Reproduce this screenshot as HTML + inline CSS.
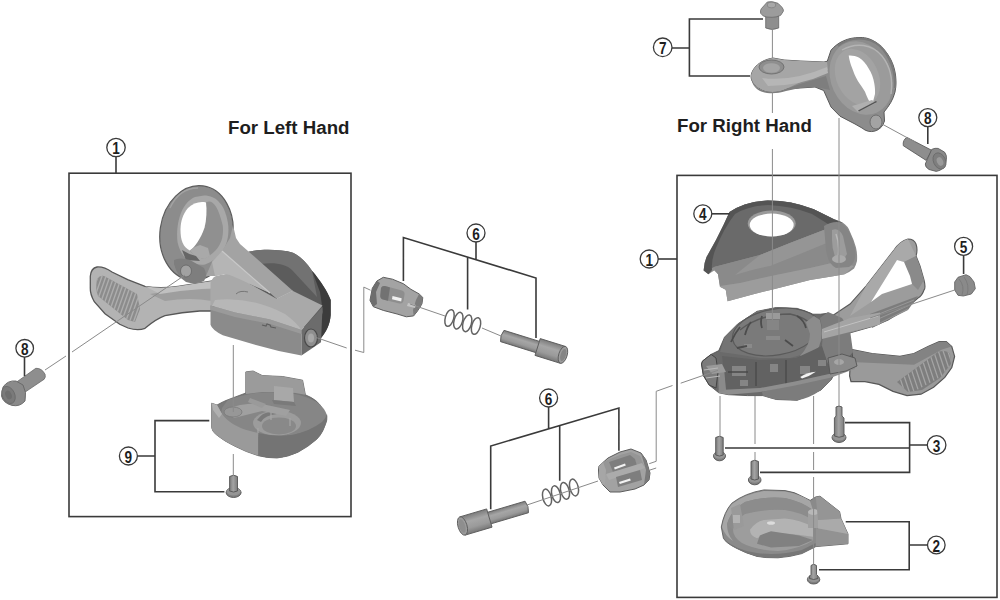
<!DOCTYPE html>
<html><head><meta charset="utf-8">
<style>
html,body{margin:0;padding:0;background:#fff;}
body{width:1000px;height:600px;overflow:hidden;}
svg{display:block;}
.t{font-family:"Liberation Sans",sans-serif;font-weight:bold;fill:#1e1e1e;}
.n{font-family:"Liberation Sans",sans-serif;font-weight:bold;fill:#1e1e1e;font-size:17px;}
.br{stroke:#3a3a3a;stroke-width:1.6;fill:none;}
.ax{stroke:#8a8a8a;stroke-width:1;fill:none;}
.c{stroke:#3a3a3a;stroke-width:1.3;fill:#fff;}
</style></head><body>
<svg width="1000" height="600" viewBox="0 0 1000 600">
<defs>
<linearGradient id="cyl" x1="0" y1="0" x2="0" y2="1"><stop offset="0" stop-color="#7c7c7c"/><stop offset="0.35" stop-color="#a6a6a6"/><stop offset="0.7" stop-color="#9a9a9a"/><stop offset="1" stop-color="#777"/></linearGradient>
<linearGradient id="cylv" x1="0" y1="0" x2="1" y2="0"><stop offset="0" stop-color="#7a7a7a"/><stop offset="0.45" stop-color="#a4a4a4"/><stop offset="1" stop-color="#7c7c7c"/></linearGradient>
</defs>
<!-- PARTS -->
<g id="leftShifter">
<!-- lever -->
<path d="M90.3 276.3 Q91 268 97 267 Q104 266.5 112 272 L127.7 279.7 L145 286.3 Q160 289 178.3 286.3 L212 281 L214 311 L199.7 311 Q182 312 165 315.7 Q156 319 145 328.3 Q138 331 128 328 L119.7 324.3 L105 313.7 L94.3 301.7 Q90 294 90.3 288 Z" fill="#b3b3b3" stroke="#575757" stroke-width="1.3"/>
<clipPath id="gripL"><path d="M97 279 Q100 275 104 276 L137 294 L140 309 L135 322 L128 320 L98 296 Q95 288 97 279 Z"/></clipPath>
<path d="M97 279 Q100 275 104 276 L137 294 L140 309 L135 322 L128 320 L98 296 Q95 288 97 279 Z" fill="#8c8c8c"/>
<path clip-path="url(#gripL)" d="M97.0 268.0 L85.0 302.0 M100.4 269.6 L88.4 303.6 M103.8 271.2 L91.8 305.2 M107.2 272.8 L95.2 306.8 M110.6 274.4 L98.6 308.4 M114.0 276.0 L102.0 310.0 M117.4 277.6 L105.4 311.6 M120.8 279.2 L108.8 313.2 M124.2 280.8 L112.2 314.8 M127.6 282.4 L115.6 316.4 M131.0 284.0 L119.0 318.0 M134.4 285.6 L122.4 319.6 M137.8 287.2 L125.8 321.2 M141.2 288.8 L129.2 322.8 M144.6 290.4 L132.6 324.4" stroke="#adadad" stroke-width="1.4" fill="none"/>
<path d="M150 294 Q175 289 212 289 L212 301 Q190 297 165 301 Z" fill="#9e9e9e"/>
<path d="M145 286.3 Q160 289 178.3 286.3 L212 281 L212 288 Q185 290 160 294 Z" fill="#c0c0c0"/>
<!-- dark back of body -->
<path d="M248 252 C258 249 280 249 293 252.7 C300 256 306 262 312 270.7 C320 280 328 292 330.7 300 L330.7 315 C330 325 326 332 321 338 L300 325 L250 290 Z" fill="#5c5c5c"/>
<path d="M248 252 C258 249 280 249 293 252.7 C300 256 306 262 312 270.7 L317 297 L292 270 C286 264 275 262 260 264 Z" fill="#727272"/>
<path d="M312 270.7 C320 280 328 292 330.7 300 L330.7 315 C330 325 326 332 321 338 L317 328 L323 312 L320 292 Z" fill="#3c3c3c"/>
<!-- ring -->
<ellipse cx="196.5" cy="233" rx="36.5" ry="47.5" transform="rotate(8 196.5 233)" fill="#8c8c8c" stroke="#5c5c5c" stroke-width="1.2"/>
<path d="M170 208 C176 195 186 188 198 188" stroke="#a2a2a2" stroke-width="1.5" fill="none"/>
<path d="M204 195.5 C216 195.5 226 205 228.3 226 C229.5 244 222 258 205 264.5 C191 266 181 258 177.5 242 C175.5 224 181 203 195 197 Z" fill="#a8a8a8"/>
<path d="M206 202.5 C212 199 218 205 222.8 225.8 C224 240 220 250 204.5 258.8 C198 258 192 254 189.8 250.6 C194 248 200 238 204.5 227.7 C206.5 220 206.5 210 205.4 202 Z" fill="#909090"/>
<path d="M206 202.5 C200 201 193 203 188 208 C183 214 180.5 221 180.5 230 C180.5 240 183 247 189.8 250.6 C195 247 201 238 204.5 227.7 C206.5 220 207 210 206 202.5 Z" fill="#fff"/>
<path d="M189.8 250.6 Q195 246 200 245 L208 248 L210 256 L204.5 259 L196 257 Z" fill="#a9a9a9"/>
<path d="M182 250 Q188 254 196 256 L200 261 L186 260 Z" fill="#666"/>
<!-- arm -->
<path d="M206 276 L212 262 L222 251 L230 238 L233 225 L236 238 L240 244 L248 251 L293 291 L277 299 L270 293 L250 284 L242 282 L233 277 L224 274 L215 276 Z" fill="#a3a3a3"/>
<path d="M212 262 L222 251 L270 293 L250 284 L242 282 L233 277 L224 274 L215 276 Z" fill="#b5b5b5"/>
<path d="M222 251 L270 293" stroke="#c8c8c8" stroke-width="1.3"/>
<path d="M277 299 L293 291" stroke="#c0c0c0" stroke-width="1"/>
<!-- bolt boss -->
<path d="M174 260 Q180 257 190 260 L204 268 Q208 276 204 281 Q196 285 186 282 Q177 276 174 264 Z" fill="#7e7e7e"/>
<ellipse cx="186" cy="271" rx="5.5" ry="6" fill="#a2a2a2" stroke="#666" stroke-width="0.8"/>
<!-- body top surface -->
<path d="M210.5 282.8 Q213 276 217.5 275.8 Q224 273 229.8 274.9 Q240 279 250 284 L277 299 L293 291 L322.5 305.5 L301.5 330 L270 319.5 L235 312.5 L210.5 305.5 Z" fill="#a9a9a9"/>
<path d="M215 300 Q250 296 285 314 Q296 322 301.5 330 L270 319.5 L235 312.5 L212 306 Z" fill="#b7b7b7"/>
<path d="M236 294 Q240 290 248 292" stroke="#777" stroke-width="1" fill="none"/>
<!-- body front face -->
<path d="M210.5 305.5 L235 312.5 L270 319.5 L301.5 330 L301.5 355.4 L278.8 351 L252.5 344 L222.8 335.3 Q212 330 210.5 324.8 Z" fill="#8b8b8b"/>
<path d="M210.5 305.5 L235 312.5 L270 319.5 L301.5 330 L301.5 334 L270 324 L235 317 L211 310 Z" fill="#9a9a9a"/>
<!-- end face -->
<path d="M301.5 330 L322.5 307 L321 342.3 L301.5 355.4 Z" fill="#6c6c6c"/>
<ellipse cx="311" cy="338" rx="6.5" ry="9" fill="#8e8e8e" stroke="#4a4a4a" stroke-width="1.2"/>
<ellipse cx="311" cy="338" rx="3" ry="4.5" fill="#a8a8a8"/>
<path d="M262 325 l4 1 l1 -2 l3 1 l1 2 l5 1" stroke="#5e5e5e" stroke-width="1.2" fill="none"/>
</g>
<g id="part9">
<!-- silhouette/side -->
<path d="M211.7 403.2 L217 405 Q224 401 228 399.7 L245.8 393 L245.8 371.9 L253.1 371 L262.3 375.6 L282.5 376.5 L302.6 380.2 L305.4 394.8 Q318 400 322 408 Q327 414 326 420.7 Q324 432 316.7 439.3 Q308 447 298 452.2 Q288 457 277 458 Q267 458 258.3 455.7 Q246 452 235 446.3 Q224 441 216.3 434.7 Q212 431 211.7 427.7 Z" fill="#7a7a7a" stroke="#5e5e5e" stroke-width="0.8"/>
<!-- top face -->
<path d="M228 399.7 Q242 395 258.3 392.7 Q275 391.5 293.3 393.8 Q306 396 316.7 402 Q325 408 327.2 416 Q326 424 316.7 427.7 Q305 432 293.3 434.7 Q275 437.5 258.3 437 Q240 434 228 426 Q220 418 222 408 Z" fill="#868686"/>
<!-- back wall tab -->
<path d="M245.8 371.9 L253.1 371 L262.3 375.6 L282.5 376.5 L302.6 380.2 L305.4 394.8 Q296 392.5 285 392 L262 392 L246 394 Z" fill="#9b9b9b"/>
<path d="M274 386 L293 388 L294 402 L274 400 Z" fill="#a8a8a8"/>
<path d="M272 400 L294 402 L296 406 L274 404 Z" fill="#7a7a7a"/>
<!-- recess -->
<ellipse cx="277" cy="423" rx="24" ry="12.5" fill="#9c9c9c"/>
<ellipse cx="279" cy="426" rx="17" ry="8.5" fill="#898989"/>
<path d="M257 420 Q262 412 277 410 L277 414 Q265 415 261 422 Z" fill="#7a7a7a"/>
<path d="M271 412 v8 M290 418 v8 M258 428 v7" stroke="#a6a6a6" stroke-width="1.2"/>
<!-- arm ridge -->
<path d="M224 410 Q245 402 262 404 L290 410 L286 416 L262 411 L234 418 Z" fill="#a0a0a0"/>
<path d="M250 398 L266 404 L262 408 L248 402 Z" fill="#9a9a9a"/>
<ellipse cx="233" cy="412" rx="9" ry="5" fill="#979797" stroke="#7a7a7a" stroke-width="0.8"/>
<!-- front-left raised wall -->
<path d="M211.7 403.2 L217 405 L222 414 Q232 428 258.3 433 L258.3 455.7 Q246 452 235 446.3 Q224 441 216.3 434.7 Q212 431 211.7 427.7 Z" fill="#9a9a9a"/>
<path d="M211.7 403.2 L217 405 L222 414 L219 418 L213 410 Z" fill="#b0b0b0"/>
<!-- front dark side -->
<path d="M258.3 433 Q276 437.5 293.3 434.7 Q310 431 322 422 Q326 418 327 414 Q328 420 326 424 Q322 434 316.7 439.3 Q308 447 298 452.2 Q288 457 277 458 Q267 458 258.3 455.7 Z" fill="#747474"/>
</g>
<g id="screw9" stroke="#555" stroke-width="0.9">
<ellipse cx="233.6" cy="492.5" rx="7.5" ry="5" fill="#7e7e7e"/>
<ellipse cx="233.6" cy="491.5" rx="7" ry="4" fill="#959595" stroke="none"/>
<path d="M229.6 491 V476.5 Q233.6 474 237.5 476.5 V491 Q233.6 493 229.6 491 Z" fill="url(#cylv)"/>
</g>
<g id="screw8L">
<path d="M16.7 382 L35.8 368.3 Q41.7 368 45 374.2 Q46 377 44.2 379.2 L23.3 393.3 Z" fill="#8e8e8e" stroke="#6a6a6a" stroke-width="0.8"/>
<path d="M3 387 Q8 380 16 381 L23 385 Q27 392 25 401 Q20 407 12 405.4 Q3 403 1.5 396 Z" fill="#8a8a8a" stroke="#666" stroke-width="0.9"/>
<ellipse cx="8.5" cy="395" rx="6.2" ry="9" transform="rotate(-25 8.5 395)" fill="#7a7a7a" stroke="#6a6a6a" stroke-width="0.8"/>
<ellipse cx="8.5" cy="395" rx="3" ry="4.5" transform="rotate(-25 8.5 395)" fill="#6e6e6e"/>
</g>
<g id="barrelU">
<path d="M383.3 277.3 L376.9 281 L372.3 288.3 L370 300.3 L373.3 306.7 L383.3 310.4 L397.1 314 L406.3 316.8 L413.6 315.9 L417.3 311.3 L421.9 304 L422.8 297.5 L419.1 293.9 L410.9 289.3 L403.5 283.8 L392.5 279.2 Z" fill="#a3a3a3" stroke="#5e5e5e" stroke-width="1"/>
<path d="M376.9 281 L372.3 288.3 L370 300.3 L373.3 306.7 L377 304 L376 292 L380 283 Z" fill="#6e6e6e"/>
<path d="M381 288 Q382 285.5 385 286 L402 290.5 Q405 291.5 404.5 294.5 L403.5 301 Q402.5 304 399.5 303.5 L383 299.5 Q380 298.5 380.3 295.5 Z" fill="#8e8e8e"/>
<path d="M381 288 Q382 285.5 385 286 L390 287.5 L388 300.8 L383 299.5 Q380 298.5 380.3 295.5 Z" fill="#727272"/>
<path d="M392.5 296 L401.7 298.2 L401.2 301.4 L392 299.2 Z" fill="#f0f0f0"/>
<path d="M413.6 315.9 L417.3 311.3 L421.9 304 L422.8 297.5 L419.1 293.9 L416 300 L413 310 Z" fill="#7c7c7c"/>
<path d="M408 303 L416 305 L415 308 L407 306 Z" fill="#c4c4c4"/>
</g>
<g id="pinU" transform="translate(502.3 336) rotate(17.3)">
<path d="M0 -5.9 H38 V5.9 H0 Q-2.5 0 0 -5.9 Z" fill="url(#cyl)" stroke="#5e5e5e" stroke-width="0.9"/>
<path d="M37 -8.8 H63.5 V8.8 H37 Z" fill="url(#cyl)" stroke="#5e5e5e" stroke-width="0.9"/>
<ellipse cx="63.5" cy="0" rx="4.2" ry="8.8" fill="#9c9c9c" stroke="#5e5e5e" stroke-width="0.9"/>
<ellipse cx="63.8" cy="0" rx="2.6" ry="6.2" fill="#858585"/>
</g>
<g id="bolt7">
<path d="M765.7 16 H778.7 V28 Q772 31 765.7 28 Z" fill="#8e8e8e" stroke="#666" stroke-width="0.8"/>
<path d="M767.3 2 Q772 0.8 778 3.3 L782 7.3 Q784 10 783.3 11.3 L780.7 15.3 Q776 17.5 772 17.3 Q766 17.5 763.3 16 L760.7 13.3 Q760 10.5 761.3 8.7 Z" fill="#9c9c9c" stroke="#6a6a6a" stroke-width="0.8"/>
<ellipse cx="771.5" cy="5" rx="4.2" ry="2.8" fill="#a8a8a8" stroke="#7c7c7c" stroke-width="0.7"/>
</g>
<g id="clamp7">
<!-- ring silhouette + arm + tab -->
<path d="M860 37.5 C872 37 884 46 891 60 C896 70 897 82 895 92 C893 100 889 106 884 112 L884.5 121 Q882 129 875 131 Q868 133 862 128 L855 124 L840 116.2 L831 107 L823.7 90.5 L815 87 L800 88 L786 89 C780 92 772 93 765 91 C756 88 751 82 751 76 C752 68 760 60 773 58 L784 60 L800 61 L824 62 L827.3 61.2 L831 50.2 C838 42 848 37.5 860 37.5 Z" fill="#8c8c8c" stroke="#5a5a5a" stroke-width="1"/>
<!-- front face annulus outer -->
<ellipse cx="861" cy="78" rx="30" ry="38" transform="rotate(-25 861 78)" fill="#9b9b9b"/>
<path d="M838 46 C850 36 868 36 880 46 C890 56 896 72 895 88" stroke="#7a7a7a" stroke-width="2.2" fill="none"/>
<path d="M842 50 C856 42 872 44 882 56 C890 66 893 80 891 94" stroke="#b4b4b4" stroke-width="1.4" fill="none"/>
<!-- inner surface -->
<ellipse cx="857.5" cy="77" rx="21" ry="29.5" transform="rotate(-25 857.5 77)" fill="#a3a3a3"/>
<clipPath id="clipHoleR"><ellipse cx="857.5" cy="77" rx="21" ry="29.5" transform="rotate(-25 857.5 77)"/></clipPath>
<path d="M848.7 55.5 C852 55.2 856 56 859.2 57.8 C863 60 866 64 868.5 68.3 C871.5 73 873.5 78 874.3 83.5 C875 87 875.2 91 875 94 L873.2 101 L869.7 102.2 C867 97 866 94 865 91.7 C862 87 860 84 858 81.2 C855 76 853.5 72 852.2 68.3 C850.5 64 849.5 61 848.7 55.5 Z" fill="#fff"/>
<path d="M852 106 L872 100 L876 103 L858 112 Z" fill="#b0b0b0"/>
<path d="M858 110.5 L876 101 L877 102 L859 111.5 Z" fill="#555"/>
<!-- bolt boss -->
<ellipse cx="876" cy="122" rx="6" ry="7" fill="#a3a3a3" stroke="#6a6a6a" stroke-width="0.9"/>
<!-- arm -->
<path d="M773 58 L784 60 L800 61 L827 62 L828 70 L805 80 L786 89 C780 92 772 93 765 91 C756 88 751 82 751 76 C752 68 760 60 773 58 Z" fill="#a6a6a6"/>
<path d="M751 76 C752 84 757 89 765 91 C772 93 780 92 786 89 L800 84 L826 76 L830 90 L815 87 L800 88 L786 91 C776 94 768 94 760 91 C754 88 751 82 751 76 Z" fill="#7e7e7e"/>
<path d="M762 78 Q792 82 827 67 L828 73 Q800 86 768 86 Z" fill="#b6b6b6"/>
<ellipse cx="771.5" cy="67" rx="12.5" ry="7" fill="#8e8e8e" stroke="#6e6e6e" stroke-width="0.9"/>
<ellipse cx="771.5" cy="68" rx="8.5" ry="4.8" fill="#a4a4a4"/>
</g>
<g id="screw8R">
<path d="M906.9 137.4 L931.7 150.3 L926.2 160.4 L903.3 145.7 Q902.5 140 906.9 137.4 Z" fill="#8e8e8e" stroke="#5e5e5e" stroke-width="0.9"/>
<path d="M931.7 149.4 Q935 147.8 938.1 148.4 L944.5 152.1 Q947 155 946.4 159.4 Q946 164 943.6 167.7 Q940 171 936.3 171.4 L929 169.5 Q925 167 925.3 164 Z" fill="#8a8a8a" stroke="#5e5e5e" stroke-width="0.9"/>
<ellipse cx="939.5" cy="161" rx="6" ry="8.5" transform="rotate(-25 939.5 161)" fill="#7e7e7e" stroke="#6a6a6a" stroke-width="0.8"/>
<ellipse cx="940" cy="161.5" rx="3" ry="4.5" transform="rotate(-25 940 161.5)" fill="#9a9a9a"/>
</g>
<g id="cover4">
<path d="M729.5 212 Q737 207 744.8 204.4 Q756 201 767.8 200.5 Q780 200.5 790.8 202.5 Q803 205 813.8 209.2 L833 218.7 L842.6 222.6 Q848 226 850.2 232.2 Q854 240 856 247.5 Q857.5 254 857 260.9 Q856 265 854.1 268.6 Q850 272 844.5 274.3 L833 276.2 L810 280.1 L771.7 289.7 L752.5 294.4 L727.6 301.2 L725.7 289.7 L719.9 286.8 L718 274.3 L714.2 270.5 L708.4 274.3 L703.6 270.5 Q704 263 706.5 257.1 L716.1 239.8 L723.7 224.5 Z" fill="#8d8d8d"/>
<!-- top dark face -->
<path d="M729.5 212 Q737 207 744.8 204.4 Q756 201 767.8 200.5 Q780 200.5 790.8 202.5 Q803 205 813.8 209.2 L833 218.7 L829 228 L790 243 L760 255 L714 267 L708 270 Q707 262 709 257 L718 240 Z" fill="#6a6a6a"/>
<path d="M729.5 212 Q737 207 744.8 204.4 Q756 201 767.8 200.5 Q780 200.5 790.8 202.5 Q803 205 813.8 209.2 L833 218.7 L842.6 222.6 L828 224 L812 214 Q792 206 768 205 Q748 206 735 214 Q724 228 716 248 Q711 260 712 270 L708.4 274.3 L703.6 270.5 Q704 263 706.5 257.1 L716.1 239.8 L723.7 224.5 Z" fill="#545454"/>
<!-- middle lighter band -->
<path d="M714 267 L760 255 L790 243 L829 228 L838 236 L836 262 L810 268 L771 276 L740 283 L720 286 L718 274.3 Z" fill="#8a8a8a"/>
<path d="M760 255 L790 243 L829 228 L834 240 L800 254 L770 266 Q750 270 735 275 Z" fill="#959595"/>
<!-- bottom flange -->
<path d="M720 286 L740 283 L771 276 L810 268 L836 262 L854 266 L844.5 274.3 L833 276.2 L810 280.1 L771.7 289.7 L752.5 294.4 L727.6 301.2 L725.7 289.7 L719.9 286.8 Z" fill="#9c9c9c"/>
<!-- hole -->
<ellipse cx="771.7" cy="223.5" rx="24" ry="13" fill="#9a9a9a"/>
<ellipse cx="771.7" cy="225" rx="22" ry="11.5" fill="#fff"/>
<!-- boss -->
<path d="M824 226 Q834 220 842 223 Q851 230 855 248 Q857 262 849 267 L836 268 Q828 264 826 250 Z" fill="#858585"/>
<path d="M832 230 Q839 227 843 236 L847 254 Q843 262 836 259 Q832 250 832 240 Z" fill="#9c9c9c"/>
<path d="M836 234 Q840 244 838 258" stroke="#b8b8b8" stroke-width="1.5" fill="none"/>
<ellipse cx="839" cy="259" rx="7" ry="4" fill="#aaaaaa"/>
</g>
<g id="levers">
<!-- upper release lever -->
<path d="M832 316 L850 304 L866 286 L880 268 L894 250 Q900 241 908 239 Q914 239 916 244 Q918 250 916 256 L920 266 L924 280 Q926 288 924 290 Q922 296 918 298 L904 310 L888 320 L874 326 L860 330 L846 334 L832 336 Z" fill="#9c9c9c" stroke="#5a5a5a" stroke-width="1.1"/>
<path d="M894 250 Q900 241 908 239 L916 256 L904 262 L897 260 L871 302 L850 316 L866 286 L880 268 Z" fill="#a9a9a9"/>
<path d="M916 256 L920 266 L924 280 L918 290 L912 284 L904 262 Z" fill="#8a8a8a"/>
<path d="M871 302 L897 260 L904 262 L910 276 L912 284 L900 288 L882 294 Z" fill="#fff"/>
<path d="M870 314 L918 296 L908 310 L872 328 Z" fill="#7c7c7c"/>
<path d="M874 316 L914 300 M876 320 L912 304 M878 324 L908 309" stroke="#9e9e9e" stroke-width="0.8"/>
<path d="M832 336 L846 334 L860 330 L874 326 L872 320 L850 326 L834 328 Z" fill="#888"/>
<!-- lower thumb lever -->
<path d="M851 349.4 L872 353.6 L900 356.4 L914 353.6 L928 346.6 L939.2 341.7 L946.2 341.7 L951.8 346.6 L954.6 356.4 L951.8 367.6 L944.8 377.4 L933.6 387.2 L921 394.2 L907 395.6 L893 391.4 L879 384.4 L865 381.6 L851 381.6 L849.6 376 Z" fill="#9a9a9a" stroke="#575757" stroke-width="1.2"/>
<path d="M851 349.4 L872 353.6 L900 356.4 L914 353.6 L928 346.6 L939.2 341.7 L946.2 341.7 L951.8 346.6 L942 349.4 L914 364.8 L851 362 Z" fill="#838383"/>
<clipPath id="gripR"><path d="M897 382 L938 352 Q946 349 950 354 L951 364 L940 378 L922 390 L908 392 Z"/></clipPath>
<path d="M897 382 L938 352 Q946 349 950 354 L951 364 L940 378 L922 390 L908 392 Z" fill="#7e7e7e"/>
<path clip-path="url(#gripR)" d="M894.0 360.0 L906.0 396.0 M898.0 357.8 L910.0 393.8 M902.0 355.6 L914.0 391.6 M906.0 353.4 L918.0 389.4 M910.0 351.2 L922.0 387.2 M914.0 349.0 L926.0 385.0 M918.0 346.8 L930.0 382.8 M922.0 344.6 L934.0 380.6 M926.0 342.4 L938.0 378.4 M930.0 340.2 L942.0 376.2 M934.0 338.0 L946.0 374.0 M938.0 335.8 L950.0 371.8 M942.0 333.6 L954.0 369.6 M946.0 331.4 L958.0 367.4" stroke="#a4a4a4" stroke-width="1.3" fill="none"/>
</g>
<g id="body1">
<path d="M702.5 361.1 L711.1 354.4 L718.8 350.6 L724.5 337.2 L737.9 323.8 L757.1 311.3 L776.3 307.5 L797.3 308.4 L812.7 314.2 L820.3 314.2 L828 313.2 L840 322 L849.1 333.3 L852.9 358.3 L854.8 365.9 L849.1 369.8 L835.7 370.7 L831.4 379.5 L821 390 L797.3 400.3 L776.3 399.5 L762.8 395.6 L747.5 395.6 L728.3 394.7 L718.8 392.8 L709.2 385.1 L703.4 375.5 L701.5 364 Z" fill="#6a6a6a" stroke="#4a4a4a" stroke-width="0.8"/>
<!-- dial disk top -->
<path d="M724.5 337.2 L737.9 323.8 L757.1 311.3 L776.3 307.5 L797.3 308.4 L812.7 314.2 L820 322 L822 340 L812 352 L790 358 L760 358 L735 354 L720 352 Z" fill="#747474"/>
<ellipse cx="776" cy="332" rx="44" ry="23" transform="rotate(-10 776 332)" fill="#7a7a7a" stroke="#5a5a5a" stroke-width="1.2"/>
<path d="M740 330 Q760 314 790 314 Q810 318 816 332" stroke="#5a5a5a" stroke-width="1.4" fill="none"/>
<path d="M766 313 h14 v6 h-14 z" fill="#9a9a9a"/>
<path d="M767 320 h12 v10 h-12 z" fill="#858585"/>
<path d="M766 336 h14 v4 h-14 z M744 344 h8 v4 h-8z" fill="#8a8a8a"/>
<path d="M731 342 Q735 333 740 327 M745 335 Q747 327 751 322 M762 328 Q760 322 762 316 M797 316 Q804 320 806 328 M785 340 l8 6 M737 348 l10 -2" stroke="#4c4c4c" stroke-width="1.8" fill="none"/>
<!-- dial wall right -->
<path d="M806 322 L814 316 L820 320 Q824 334 819 347 L806 357 L800 356 Q810 345 810 334 Z" fill="#8c8c8c"/>
<path d="M820 318 L828 313.2 L840 322 L836 340 L822 346 Q824 332 820 318 Z" fill="#747474"/>
<!-- inner frame area -->
<path d="M722 356 L760 360 L796 358 L822 346 L840 340 L850 352 L852 362 L831 373.5 L795 381.5 L760 388 L726 390 Z" fill="#626262"/>
<path d="M732 366 h14 v10 h-14z M770 364 h8 v8 h-8z M800 366 h10 v8 h-10z M740 380 h8 v6 h-8z M818 360 h8 v6 h-8z" fill="#858585"/>
<path d="M756 362 v24 M786 360 v26 M728 372 h20" stroke="#4a4a4a" stroke-width="1.4"/>
<!-- bottom bowl -->
<path d="M762 392 L795 384 L831.4 376 L831.4 379.5 L821 390 Q810 398 797.3 400.3 L776.3 399.5 Q768 398 762.8 395.6 Z" fill="#7c7c7c"/>
<!-- frame light band -->
<path d="M718.8 390 L760 388 L795 381.5 L831.4 373.5 L854.8 366 L854.8 369 L849.1 371 L831.4 377.5 L795 385.5 L760 392 L728.3 394.7 L718.8 393 Z" fill="#8e8e8e"/>
<path d="M718 370 L724 368 L726 390 L718.8 392.8 Z" fill="#8a8a8a"/>
<path d="M800.2 376.9 Q808 372 815.8 371.7 Q810 376 802 378.5 Z" fill="#f4f4f4"/>
<!-- lever root & pivot -->
<path d="M820 318 L828 312 L842 318 L850 330 L853 352 L846 360 L828 364 L822 346 Q824 332 820 318 Z" fill="#7c7c7c"/>
<path d="M822 329 L850 318 L880 312.5 L880 324.5 L850 332 L822 339 Z" fill="#a4a4a4"/>
<path d="M824 332 L878 316" stroke="#c2c2c2" stroke-width="1"/>
<path d="M828 358 L842 354 L855 358 L857 366 L846 371 L830 374 Z" fill="#8a8a8a" stroke="#555" stroke-width="0.9"/>
<ellipse cx="839" cy="362" rx="5" ry="3" fill="#a6a6a6"/>
<!-- left cable guide -->
<path d="M702.5 361.1 L711.1 354.4 L716 358 L718 372 L716 388 L709.2 385.1 L703.4 375.5 L701.5 364 Z" fill="#7c7c7c" stroke="#454545" stroke-width="1"/>
<path d="M706 366 L722 364 L726 372 L712 374 Z" fill="#9a9a9a"/>
<path d="M704 370 L718 368 M706 378 L720 376" stroke="#b8b8b8" stroke-width="1.2"/>
</g>
<g id="cap5">
<path d="M954.7 282 L958 277.3 L966 274.7 L970 276.7 L974 282 L975.3 288.7 L971.3 294 L963.3 296 L958 295.3 L954.7 290 Z" fill="#8a8a8a" stroke="#666" stroke-width="0.9"/>
<path d="M959 279 Q965 286 962 295 M964 277 Q970 285 967 295" stroke="#777" stroke-width="0.8" fill="none"/>
</g>
<g id="screws3" stroke="#555" stroke-width="0.9">
<ellipse cx="719.5" cy="456" rx="6" ry="4.8" fill="#7e7e7e"/>
<ellipse cx="719.5" cy="455" rx="5.6" ry="3.8" fill="#959595" stroke="none"/>
<path d="M715.7 455 V437.5 Q719.5 435 723.2 437.5 V455 Q719.5 457 715.7 455 Z" fill="url(#cylv)"/>
<ellipse cx="754.7" cy="480" rx="6.3" ry="4.8" fill="#7e7e7e"/>
<ellipse cx="754.7" cy="479" rx="5.9" ry="3.8" fill="#959595" stroke="none"/>
<path d="M751 479 V461.5 Q754.7 459 758.5 461.5 V479 Q754.7 481 751 479 Z" fill="url(#cylv)"/>
<ellipse cx="839" cy="437.5" rx="7" ry="5" fill="#7e7e7e"/>
<ellipse cx="839" cy="436.5" rx="6.6" ry="4" fill="#959595" stroke="none"/>
<path d="M836 416 V407 Q839 405 842 407 V416 L844 418 V436 Q839 438.5 834.4 436 V418 Z" fill="url(#cylv)"/>
<ellipse cx="813.6" cy="579.5" rx="6.2" ry="4.5" fill="#7e7e7e"/>
<ellipse cx="813.6" cy="578.5" rx="5.8" ry="3.5" fill="#959595" stroke="none"/>
<path d="M811 574.5 V565.5 Q813.6 563 816.5 565.5 V574.5 L818 576 V578.5 Q813.6 580.5 809.5 578.5 V576 Z" fill="url(#cylv)"/>
</g>
<g id="part2">
<path d="M721.3 527 Q724 512 731.8 503.2 Q745 493 764 489.9 L785 490.6 Q795 492 801.8 496.2 L810.2 500.4 L815.8 496.9 L820 496.2 L839.6 511.6 L841 518.6 L848 534 L848 543.8 L815.8 546.6 L801.8 553.6 Q790 557 778 557.8 Q765 558 757 556.4 Q745 553 736 548 Q726 543 723.4 538.2 Z" fill="#8a8a8a" stroke="#5e5e5e" stroke-width="0.9"/>
<!-- rim top light -->
<path d="M722 527 Q725 512 732 504 Q745 494 764 491 L785 491.5 Q800 494 810 501 L813 510 Q800 501 785 498 Q765 496 745 502 Q731 510 727 524 Q727 534 733 541 Q725 536 722 527 Z" fill="#a6a6a6"/>
<!-- inner back wall -->
<path d="M727 524 Q731 510 745 502 Q765 496 785 498 Q800 501 813 510 L813 520 Q800 512 785 510 Q762 509 745 514 Q735 520 733 530 Z" fill="#8c8c8c"/>
<!-- floor -->
<path d="M733 530 Q735 520 745 514 Q762 509 785 510 Q800 512 813 520 L814 540 Q800 549 778 551 Q755 550 742 543 Q733 537 733 530 Z" fill="#9d9d9d"/>
<!-- cam light -->
<path d="M750 529.8 Q755 522 764 520 L785 518.6 Q800 520 813 527 L813 536.8 L792 534 L768.2 532.6 L757 538.2 Q750 536 750 529.8 Z" fill="#b3b3b3"/>
<ellipse cx="771" cy="523" rx="4" ry="1.8" fill="#dcdcdc"/>
<!-- cam dark -->
<path d="M759.8 535.4 L771 531.2 L799 535.4 L813 540 L799 546 L771 547.5 L757 543.8 Z" fill="#818181"/>
<!-- left inner structures -->
<path d="M731 508 L740 504 L744 526 L734 530 Z" fill="#9a9a9a"/>
<path d="M733 515 h7 v8 h-7 z" fill="#b3b3b3"/>
<!-- front rim -->
<path d="M723.4 538.2 Q735 550 757 553 Q778 556 801.8 550 L815.8 543 L815.8 546.6 L801.8 553.6 Q790 557 778 557.8 Q765 558 757 556.4 Q745 553 736 548 Q726 543 723.4 538.2 Z" fill="#777"/>
<!-- post -->
<path d="M808 512 h11 v16 h-11 z" fill="#a0a0a0"/>
<ellipse cx="813.5" cy="512" rx="5.5" ry="3" fill="#b8b8b8"/>
<!-- tab block -->
<path d="M815.8 496.9 L820 496.2 L839.6 511.6 L841 518.6 L818 520 Z" fill="#959595"/>
<path d="M818 520 L841 518.6 L848 534 L818 536 Z" fill="#aaaaaa"/>
<path d="M816 528 L848 534 L848 543.8 L815.8 546.6 Z" fill="#929292"/>
</g>
<g id="part6L">
<path d="M599 466 L608 458 L620 452 L631 449 L641 453 L646 460 L650 473 L649 480 L644 485 L635 489 L620 492 L610 492 L603 485 L599 478 L598.5 470 Z" fill="#a2a2a2" stroke="#5c5c5c" stroke-width="1"/>
<path d="M603 462 L620 455 L631 452 L640 456 L644 466 L610 476 L604 474 Z" fill="#969696"/>
<path d="M609 462 L630 455 L635 459 L637 466 L613 472 Z" fill="#7e7e7e"/>
<path d="M614 467.5 L625 463.5 L625.8 465.5 L614.8 469.5 Z" fill="#f2f2f2"/>
<path d="M606 474 L642 463 L645 468 L609 480 Z" fill="#ababab"/>
<path d="M616 477 L640 470 L642 480 L618 487 Z" fill="#7e7e7e"/>
<path d="M619 482 L630 478.5 L630.8 480.5 L619.8 484 Z" fill="#f2f2f2"/>
<path d="M599 466 L603 462 L606 470 L605 484 L603 485 L599 478 Z" fill="#a6a6a6"/>
<path d="M641 453 L646 460 L650 473 L649 480 L644 485 L646 470 Z" fill="#7a7a7a"/>
</g>
<g id="pinL" transform="translate(462.5 526) rotate(-16.5)">
<path d="M27 -6 H67 Q69.5 0 67 6 H27 Z" fill="url(#cyl)" stroke="#5e5e5e" stroke-width="0.9"/>
<path d="M0 -9.5 H28 V9.5 H0 Z" fill="url(#cyl)" stroke="#5e5e5e" stroke-width="0.9"/>
<ellipse cx="0" cy="0" rx="4.5" ry="9.5" fill="#9c9c9c" stroke="#5e5e5e" stroke-width="0.9"/>
<ellipse cx="-0.3" cy="0" rx="3" ry="7" fill="#8e8e8e"/>
</g>
<g id="springU" fill="none" stroke="#626262" stroke-width="1.5">
<ellipse cx="449.5" cy="318.0" rx="4.2" ry="8.6" transform="rotate(16 449.5 318.0)"/>
<ellipse cx="458.3" cy="320.7" rx="4.2" ry="8.6" transform="rotate(16 458.3 320.7)"/>
<ellipse cx="467.2" cy="323.3" rx="4.2" ry="8.6" transform="rotate(16 467.2 323.3)"/>
<ellipse cx="476.0" cy="326.0" rx="4.2" ry="8.6" transform="rotate(16 476.0 326.0)"/>
</g>
<g id="springL" fill="none" stroke="#626262" stroke-width="1.5">
<ellipse cx="547.0" cy="497.5" rx="4.2" ry="8.6" transform="rotate(-14 547.0 497.5)"/>
<ellipse cx="556.0" cy="494.2" rx="4.2" ry="8.6" transform="rotate(-14 556.0 494.2)"/>
<ellipse cx="565.0" cy="490.8" rx="4.2" ry="8.6" transform="rotate(-14 565.0 490.8)"/>
<ellipse cx="574.0" cy="487.5" rx="4.2" ry="8.6" transform="rotate(-14 574.0 487.5)"/>
</g>

<!-- /PARTS -->
<!-- titles -->
<text class="t" x="228" y="134" font-size="18.7">For Left Hand</text>
<text class="t" x="677" y="132.4" font-size="18.7">For Right Hand</text>

<!-- boxes -->
<rect class="br" x="69" y="173.2" width="282" height="343.4"/>
<rect class="br" x="677" y="175.4" width="320" height="422"/>

<!-- LEFT axis lines -->
<g id="axL">
<path class="ax" d="M45 370 L66 356 M72 352 L185 275"/>
<path class="ax" d="M233.3 345 V412 M233.3 454 V476"/>
<path class="ax" d="M314.7 337 L346.7 348 M355 350.2 L363.8 352.5 V287.1 L370.5 290.2"/>
<path class="ax" d="M410 304 L445 316 M482 328 L501 336"/>
</g>
<!-- LEFT brackets -->
<path class="br" d="M116 157 V173"/>
<path class="br" d="M24.5 357 V376"/>
<path class="br" d="M137.5 456 H155 M209.3 420.6 H155 V491.7 H224.4"/>
<path class="br" d="M476 242 V259 M403.4 281 V237.5 L536 278 V338 M467.6 257 V309.5"/>

<!-- RIGHT axis lines -->
<g id="axR">
<path class="ax" d="M772.4 30 V58 M772.4 92 V113 M772.4 149 V320"/>
<path class="ax" d="M839 118 V406"/>
<path class="ax" d="M813.6 396 V444 M813.6 452 V470 M813.6 477 V564"/>
<path class="ax" d="M954.7 290 L870 318"/>
<path class="ax" d="M527 505 L598 481"/>
<path class="ax" d="M650 470 L656.2 468"/>
<path class="ax" d="M882 124 L915 142"/>
<path class="ax" d="M718 370.3 L680.7 383.2 M672.5 385.5 L656.2 391.3 V461.3 L649.2 463.7"/>
<path class="ax" d="M720 396 V436 M755 396 V444 M755 452 V460"/>
</g>
<!-- RIGHT brackets -->
<path class="br" d="M672 48 H689.4 M763 19 H689.4 V76 H750"/>
<path class="br" d="M658 259 H677"/>
<path class="br" d="M712 213.8 H729.7"/>
<path class="br" d="M927 445 H909.6 M845 422.6 H909.6 V472.4 H760 M725 448 H909.6"/>
<path class="br" d="M927 545 H909.2 M845.7 521.8 H909.2 V569.8 H819"/>
<path class="br" d="M927.8 126.6 V144"/>
<path class="br" d="M963.6 255.5 V274"/>
<path class="br" d="M548.6 407 V429 M490.7 509.3 V446 L618.9 408 V450.7 M559.7 425.5 V480.8"/>

<!-- callouts -->
<g id="callouts">
<g transform="translate(116 147.5)"><circle class="c" r="9.2"/><text class="n" y="6.5" transform="scale(0.8 1)" text-anchor="middle">1</text></g>
<g transform="translate(24.7 348.3)"><circle class="c" r="8.8"/><text class="n" y="6.5" transform="scale(0.8 1)" text-anchor="middle">8</text></g>
<g transform="translate(128.4 456)"><circle class="c" r="9"/><text class="n" y="6.5" transform="scale(0.8 1)" text-anchor="middle">9</text></g>
<g transform="translate(476 233)"><circle class="c" r="9"/><text class="n" y="6.5" transform="scale(0.8 1)" text-anchor="middle">6</text></g>
<g transform="translate(649.2 259)"><circle class="c" r="9"/><text class="n" y="6.5" transform="scale(0.8 1)" text-anchor="middle">1</text></g>
<g transform="translate(548.6 398)"><circle class="c" r="9"/><text class="n" y="6.5" transform="scale(0.8 1)" text-anchor="middle">6</text></g>
<g transform="translate(662.7 47.3)"><circle class="c" r="9.3"/><text class="n" y="6.5" transform="scale(0.8 1)" text-anchor="middle">7</text></g>
<g transform="translate(927.8 117.6)"><circle class="c" r="9"/><text class="n" y="6.5" transform="scale(0.8 1)" text-anchor="middle">8</text></g>
<g transform="translate(702.8 213.8)"><circle class="c" r="9"/><text class="n" y="6.5" transform="scale(0.8 1)" text-anchor="middle">4</text></g>
<g transform="translate(963.6 246.4)"><circle class="c" r="9"/><text class="n" y="6.5" transform="scale(0.8 1)" text-anchor="middle">5</text></g>
<g transform="translate(936.6 445)"><circle class="c" r="9.3"/><text class="n" y="6.5" transform="scale(0.8 1)" text-anchor="middle">3</text></g>
<g transform="translate(936.3 545)"><circle class="c" r="8.8"/><text class="n" y="6.5" transform="scale(0.8 1)" text-anchor="middle">2</text></g>
</g>
</svg>
</body></html>
